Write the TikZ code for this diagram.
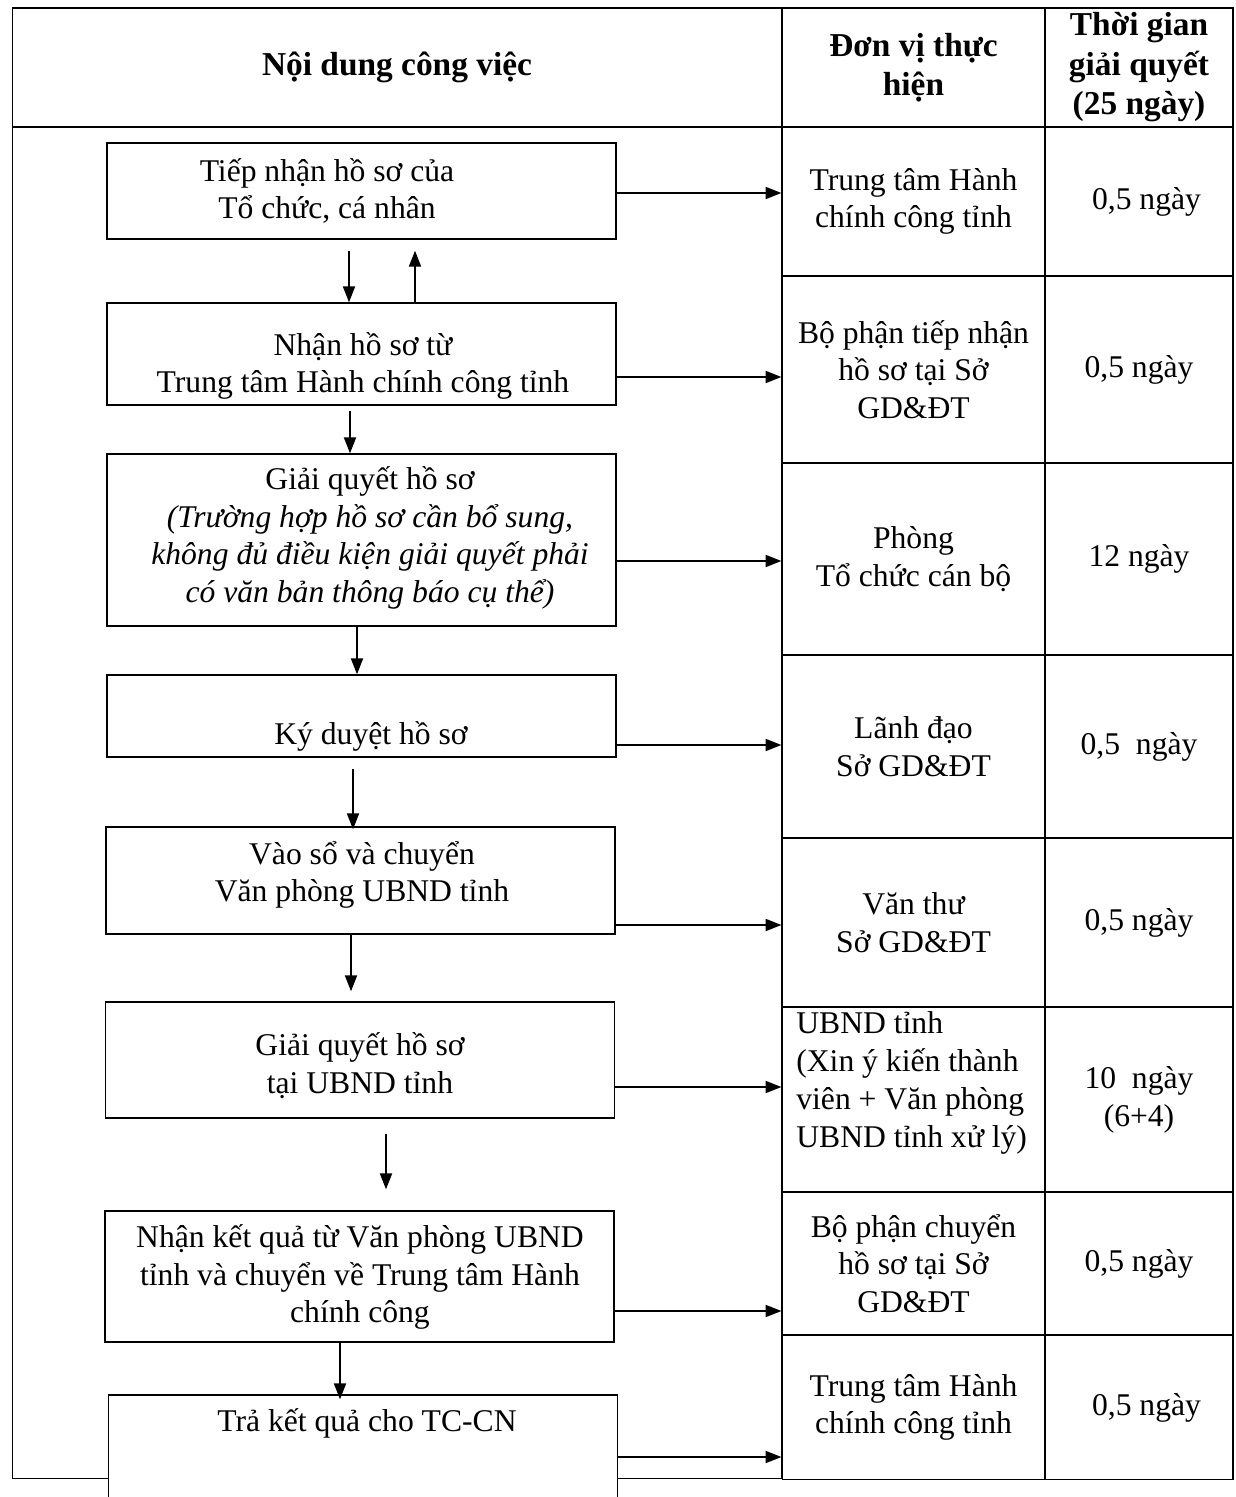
\documentclass[tikz,border=0pt]{standalone}
\usepackage{fontspec}
\setmainfont{Liberation Serif}
\usetikzlibrary{arrows.meta}

\begin{document}
\begin{tikzpicture}[x=0.02cm, y=-0.02cm,
  every node/.style={font=\fontsize{18}{21.5}\selectfont},
  box/.style={draw, line width=0.8pt, fill=white, minimum width=10.18cm, inner sep=0pt},
  cell/.style={draw, line width=0.6pt, inner sep=0pt, align=center},
  unit/.style={cell, minimum width=5.26cm},
  time/.style={cell, minimum width=3.76cm},
  head/.style={cell, font=\fontsize{19}{22.5}\selectfont\bfseries},
  txt/.style={align=center, inner sep=0pt},
  arr/.style={line width=1.2pt, -{Triangle[length=0.32cm, width=0.24cm]}}]
\useasboundingbox (0,0) rectangle (1236,1497);
\clip (0,0) rectangle (1236,1497);

% table frame
\node[cell, minimum width=15.4cm, minimum height=27.04cm] (lcol) at (397,803) {};
\node[head, minimum width=15.4cm, minimum height=2.38cm] (h1) at (397,67.5) {Nội dung công việc};
\node[head, minimum width=5.26cm, minimum height=2.38cm] (h2) at (913.5,67.5) {Đơn vị thực\\hiện};
\node[head, minimum width=3.76cm, minimum height=2.38cm] (h3) at (1139,67.5) {Thời gian\\giải quyết\\(25 ngày)};

% unit and time columns
\node[unit, minimum height=2.98cm] (c1) at (913.5,201.5) {Trung tâm Hành\\chính công tỉnh};
\node[time, minimum height=2.98cm] (d1) at (1139,201.5) {\hspace{0.3cm}0,5 ngày};
\node[unit, minimum height=3.74cm] (c2) at (913.5,369.5) {Bộ phận tiếp nhận\\hồ sơ tại Sở\\GD\&ĐT};
\node[time, minimum height=3.74cm] (d2) at (1139,369.5) {0,5 ngày};
\node[unit, minimum height=3.84cm] (c3) at (913.5,559) {Phòng\\Tổ chức cán bộ};
\node[time, minimum height=3.84cm] (d3) at (1139,559) {12 ngày};
\node[unit, minimum height=3.66cm] (c4) at (913.5,746.5) {Lãnh đạo\\Sở GD\&ĐT};
\node[time, minimum height=3.66cm] (d4) at (1139,746.5) {0,5~ ngày};
\node[unit, minimum height=3.38cm] (c5) at (913.5,922.5) {Văn thư\\Sở GD\&ĐT};
\node[time, minimum height=3.38cm] (d5) at (1139,922.5) {0,5 ngày};
\node[unit, minimum height=3.7cm] (c6) at (913.5,1099.5) {};
\node[txt, align=left, anchor=west] (u6) at (796,1083) {UBND tỉnh\\(Xin ý kiến thành\\viên + Văn phòng\\UBND tỉnh xử lý)};
\node[time, minimum height=3.7cm] (d6) at (1139,1099.5) {10~ ngày\\(6+4)};
\node[unit, minimum height=2.86cm] (c7) at (913.5,1263.5) {Bộ phận chuyển\\hồ sơ tại Sở\\GD\&ĐT};
\node[time, minimum height=2.86cm] (d7) at (1139,1263.5) {0,5 ngày};
\node[unit, minimum height=2.88cm] (c8) at (913.5,1407.5) {Trung tâm Hành\\chính công tỉnh};
\node[time, minimum height=2.88cm] (d8) at (1139,1407.5) {\hspace{0.3cm}0,5 ngày};

% process boxes
\node[box, minimum height=1.92cm] (b1) at (361.5,191) {};
\node[txt] (t1) at (327,191) {Tiếp nhận hồ sơ của\\Tổ chức, cá nhân};
\node[box, minimum height=2.04cm] (b2) at (361.5,354) {};
\node[txt] (t2) at (363,366) {Nhận hồ sơ từ\\Trung tâm Hành chính công tỉnh};
\node[box, minimum height=3.44cm] (b3) at (361.5,540) {};
\node[txt] (t3) at (370,538) {Giải quyết hồ sơ\\\textit{(Trường hợp hồ sơ cần bổ sung,}\\\textit{không đủ điều kiện giải quyết phải}\\\textit{có văn bản thông báo cụ thể)}};
\node[box, minimum height=1.64cm] (b4) at (361.5,716) {};
\node[txt] (t4) at (371,736) {Ký duyệt hồ sơ};
\node[box, minimum height=2.14cm] (b5) at (360.5,880.5) {};
\node[txt] (t5) at (362,875) {Vào sổ và chuyển\\Văn phòng UBND tỉnh};
\node[box, minimum height=2.32cm] (b6) at (360,1060) {};
\node[txt] (t6) at (360,1066) {Giải quyết hồ sơ\\tại UBND tỉnh};
\node[box, minimum height=2.62cm] (b7) at (359.5,1276.5) {};
\node[txt] (t7) at (360,1277) {Nhận kết quả từ Văn phòng UBND\\tỉnh và chuyển về Trung tâm Hành\\chính công};
\node[box, minimum height=2.8cm] (b8) at (363,1465) {};
\node[txt] (t8) at (367,1423) {Trả kết quả cho TC-CN};

% flow downwards
\draw[arr, shorten <=0.22cm] (b1.south -| 349,0) -- (b2.north -| 349,0);
\draw[arr, shorten >=0.22cm] (b2.north -| 415,0) -- (b1.south -| 415,0);
\draw[arr, shorten <=0.1cm] (b2.south -| 350,0) -- (b3.north -| 350,0);
\draw[arr] (b3.south -| 357,0) -- (b4.north -| 357,0);
\draw[arr, shorten <=0.22cm, shorten >=-0.06cm] (b4.south -| 353,0) -- (b5.north -| 353,0);
\draw[arr, shorten >=0.2cm] (b5.south -| 351,0) -- (b6.north -| 351,0);
\draw[arr, shorten <=0.3cm, shorten >=0.42cm] (b6.south -| 386,0) -- (b7.north -| 386,0);
\draw[arr, shorten >=-0.1cm] (b7.south -| 340,0) -- (b8.north -| 340,0);

% to the units
\draw[arr] (b1.east |- 0,193) -- (c1.west |- 0,193);
\draw[arr] (b2.east |- 0,377) -- (c2.west |- 0,377);
\draw[arr] (b3.east |- 0,561) -- (c3.west |- 0,561);
\draw[arr] (b4.east |- 0,745) -- (c4.west |- 0,745);
\draw[arr] (b5.east |- 0,925) -- (c5.west |- 0,925);
\draw[arr] (b6.east |- 0,1087) -- (c6.west |- 0,1087);
\draw[arr] (b7.east |- 0,1311) -- (c7.west |- 0,1311);
\draw[arr] (b8.east |- 0,1457) -- (c8.west |- 0,1457);

\end{tikzpicture}
\end{document}
